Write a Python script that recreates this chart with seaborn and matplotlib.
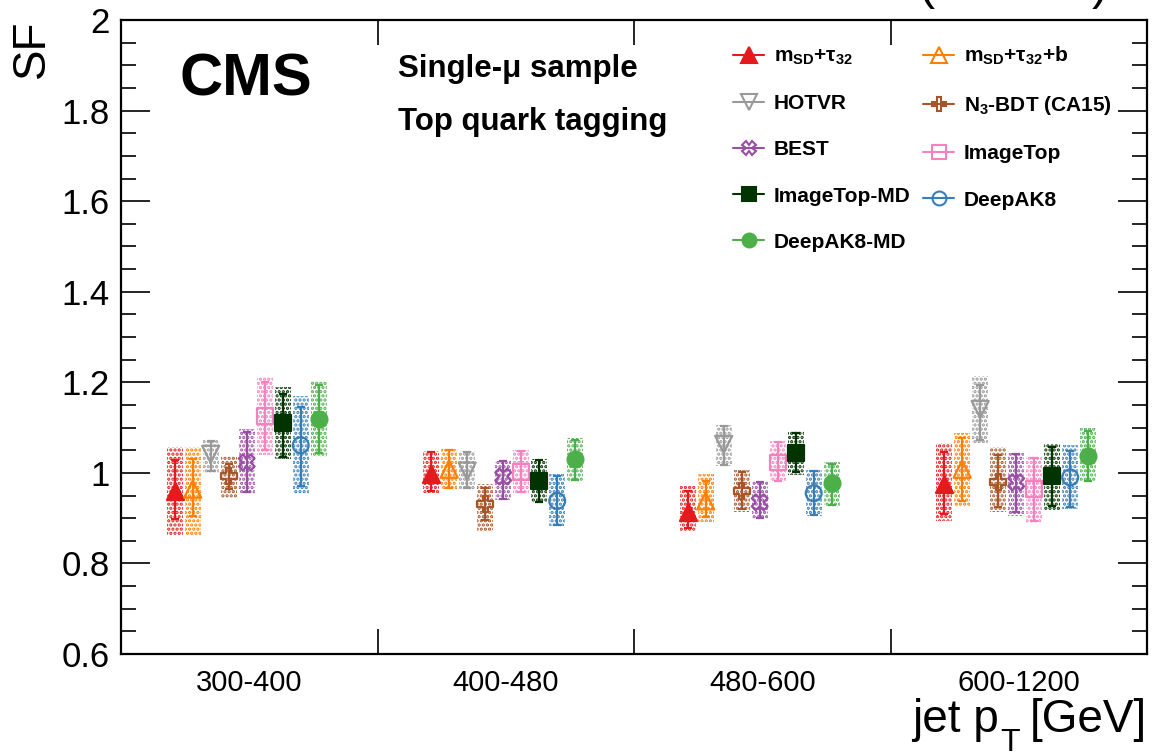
import numpy as np
import pandas as pd
import matplotlib
matplotlib.use("Agg")
import matplotlib.pyplot as plt
from matplotlib.lines import Line2D
from matplotlib.ticker import FixedLocator, MultipleLocator, FuncFormatter
import seaborn as sns

# ---------------- data ----------------
bins = ["300-400", "400-480", "480-600", "600-1200"]

methods = ["msd_tau32", "msd_tau32_b", "hotvr", "n3bdt", "best",
           "imagetop", "imagetop_md", "deepak8", "deepak8_md"]
labels = [r"m$_{SD}$+τ$_{32}$", r"m$_{SD}$+τ$_{32}$+b", "HOTVR", r"N$_{3}$-BDT (CA15)",
          "BEST", "ImageTop", "ImageTop-MD", "DeepAK8", "DeepAK8-MD"]

# central scale factors per pT bin
sf_msd_tau32   = [0.960, 0.997, 0.913, 0.975]
sf_msd_tau32_b = [0.964, 1.008, 0.938, 1.008]
sf_hotvr       = [1.041, 1.004, 1.063, 1.140]
sf_n3bdt       = [0.993, 0.931, 0.960, 0.980]
sf_best        = [1.023, 0.992, 0.935, 0.979]
sf_imagetop    = [1.125, 1.001, 1.023, 0.964]
sf_imagetop_md = [1.111, 0.983, 1.043, 0.992]
sf_deepak8     = [1.061, 0.938, 0.955, 0.990]
sf_deepak8_md  = [1.118, 1.030, 0.977, 1.037]

# error bar (upper / lower end)
eb_hi_msd_tau32   = [1.028, 1.045, 0.960, 1.045]
eb_lo_msd_tau32   = [0.898, 0.960, 0.878, 0.909]
eb_hi_msd_tau32_b = [1.030, 1.050, 0.982, 1.076]
eb_lo_msd_tau32_b = [0.904, 0.966, 0.902, 0.937]
eb_hi_hotvr       = [1.070, 1.045, 1.103, 1.195]
eb_lo_hotvr       = [1.004, 0.966, 1.017, 1.072]
eb_hi_n3bdt       = [1.019, 0.966, 1.001, 1.039]
eb_lo_n3bdt       = [0.964, 0.896, 0.920, 0.924]
eb_hi_best        = [1.090, 1.026, 0.980, 1.041]
eb_lo_best        = [0.957, 0.942, 0.900, 0.913]
eb_hi_imagetop    = [1.200, 1.048, 1.068, 1.032]
eb_lo_imagetop    = [1.050, 0.957, 0.982, 0.893]
eb_hi_imagetop_md = [1.175, 1.028, 1.087, 1.058]
eb_lo_imagetop_md = [1.035, 0.935, 1.001, 0.927]
eb_hi_deepak8     = [1.145, 0.992, 1.004, 1.048]
eb_lo_deepak8     = [0.972, 0.884, 0.908, 0.924]
eb_hi_deepak8_md  = [1.193, 1.072, 1.019, 1.092]
eb_lo_deepak8_md  = [1.043, 0.985, 0.928, 0.982]

# total-uncertainty box (upper / lower end)
bx_hi_msd_tau32   = [1.056, 1.048, 0.970, 1.067]
bx_lo_msd_tau32   = [0.860, 0.955, 0.871, 0.893]
bx_hi_msd_tau32_b = [1.056, 1.052, 0.997, 1.089]
bx_lo_msd_tau32_b = [0.862, 0.964, 0.891, 0.926]
bx_hi_hotvr       = [1.072, 1.048, 1.105, 1.213]
bx_lo_hotvr       = [0.999, 0.964, 1.015, 1.067]
bx_hi_n3bdt       = [1.037, 0.975, 1.006, 1.056]
bx_lo_n3bdt       = [0.944, 0.869, 0.913, 0.913]
bx_hi_best        = [1.096, 1.028, 0.982, 1.043]
bx_lo_best        = [0.953, 0.940, 0.898, 0.904]
bx_hi_imagetop    = [1.211, 1.050, 1.070, 1.037]
bx_lo_imagetop    = [1.039, 0.953, 0.979, 0.889]
bx_hi_imagetop_md = [1.190, 1.030, 1.092, 1.063]
bx_lo_imagetop_md = [1.030, 0.935, 0.995, 0.916]
bx_hi_deepak8     = [1.169, 0.997, 1.006, 1.061]
bx_lo_deepak8     = [0.953, 0.882, 0.904, 0.920]
bx_hi_deepak8_md  = [1.202, 1.078, 1.023, 1.098]
bx_lo_deepak8_md  = [1.036, 0.980, 0.924, 0.979]

colors = ["#e41a1c", "#ff7f00", "#999999", "#a65628", "#984ea3",
          "#f781bf", "#003300", "#377eb8", "#4daf4a"]
markers = ["^", "^", "v", "P", "X", "s", "s", "o", "o"]
filled = [True, False, False, False, False, False, True, False, True]

yticks = [0.6, 0.8, 1.0, 1.2, 1.4, 1.6, 1.8, 2.0]

g = globals()
rows = []
for m in methods:
    for b in range(len(bins)):
        rows.append(dict(method=m, ibin=b, sf=g["sf_" + m][b],
                         eb_hi=g["eb_hi_" + m][b], eb_lo=g["eb_lo_" + m][b],
                         bx_hi=g["bx_hi_" + m][b], bx_lo=g["bx_lo_" + m][b]))
df = pd.DataFrame(rows)

# ---------------- style ----------------
sns.set_theme(style="ticks")
plt.rcParams["font.family"] = ["Liberation Sans", "DejaVu Sans"]
plt.rcParams["mathtext.default"] = "regular"
plt.rcParams["hatch.linewidth"] = 1.6
for k in ["text.color", "axes.labelcolor", "xtick.color", "ytick.color", "axes.edgecolor"]:
    plt.rcParams[k] = "black"

W, H = 1153, 753
fig = plt.figure(figsize=(W / 100, H / 100), dpi=100)
ax = fig.add_axes([121 / W, 1 - 654 / H, (1147 - 121) / W, (654 - 20) / H])

step = 0.0702
boxw = 0.062
for i, m in enumerate(methods):
    d = df[df.method == m].copy()
    d["x"] = d["ibin"] + (i - 4) * step - 0.01
    c = colors[i]
    # hatched total-uncertainty boxes
    ax.bar(d["x"], d["bx_hi"] - d["bx_lo"], bottom=d["bx_lo"], width=boxw,
           fill=False, hatch="....", edgecolor=c, linewidth=0, zorder=2)
    # error bars
    ax.errorbar(d["x"], d["sf"], yerr=[d["sf"] - d["eb_lo"], d["eb_hi"] - d["sf"]],
                fmt="none", ecolor=c, elinewidth=1.6, capsize=3, capthick=1.6, zorder=3)
    # central markers
    sns.scatterplot(data=d, x="x", y="sf", marker=markers[i], s=150 if markers[i] in "^v" else 130,
                    color=c, edgecolor=c, linewidth=1.6, ax=ax, zorder=5, legend=False)
    if not filled[i]:
        ax.collections[-1].set_facecolor("none")

ax.set_xlim(-0.5, 3.5)
ax.set_ylim(0.6, 2.0)
ax.set_xlabel("")
ax.set_ylabel("")

# axes/ticks
for s in ax.spines.values():
    s.set_linewidth(1.6)
    s.set_color("black")
    s.set_visible(True)
ax.xaxis.set_major_locator(FixedLocator([0.5, 1.5, 2.5]))
ax.xaxis.set_minor_locator(FixedLocator(range(len(bins))))
ax.set_xticklabels([], minor=False)
ax.set_xticklabels(bins, minor=True)
ax.tick_params(axis="x", which="major", direction="in", length=18, width=1.2,
               top=True, bottom=True)
ax.tick_params(axis="x", which="minor", length=0, pad=11, labelsize=21, labelcolor="black")
ax.yaxis.set_major_locator(FixedLocator(yticks))
ax.yaxis.set_minor_locator(MultipleLocator(0.05))
ax.yaxis.set_major_formatter(FuncFormatter(lambda v, p: f"{v:g}"))
ax.tick_params(axis="y", which="major", direction="in", length=21, width=1.2,
               left=True, right=True, labelsize=25, pad=8, labelcolor="black")
ax.tick_params(axis="y", which="minor", direction="in", length=11, width=1.2,
               left=True, right=True)

# axis titles (ROOT-style lowered subscript T)
fig.text(1147 / W, 1 - 732 / H, "[GeV]", ha="right", va="baseline", fontsize=33)
fig.text(1010 / W, 1 - 751 / H, "T", ha="center", va="baseline", fontsize=23)
fig.text(999 / W, 1 - 732 / H, "jet p", ha="right", va="baseline", fontsize=33)
fig.text(54 / W, 1 - 20 / H, "SF", rotation=90, ha="right", va="top", fontsize=33)

# lumi label (cut by the top edge, as in the reference)
fig.text(1106 / W, 1.0, r"138 fb$^{-1}$ (13 TeV)", ha="right", va="baseline",
         fontsize=35)

# CMS label and descriptions
fig.text(180 / W, 1 - 95 / H, "CMS", fontsize=43, fontweight="bold", va="baseline")
fig.text(398 / W, 1 - 77 / H, "Single-μ sample", fontsize=22.5, fontweight="bold",
         va="baseline")
fig.text(398 / W, 1 - 130 / H, "Top quark tagging", fontsize=22.5, fontweight="bold",
         va="baseline")

# legend (row-major order like the reference: reorder for column filling)
handles = [Line2D([], [], color=colors[i], marker=markers[i], lw=1.5,
                  markersize=11 if markers[i] in "^v" else 10,
                  markerfacecolor=colors[i] if filled[i] else "none",
                  markeredgecolor=colors[i], markeredgewidth=1.5)
           for i in range(len(methods))]
order = [0, 2, 4, 6, 8, 1, 3, 5, 7]
leg = ax.legend([handles[k] for k in order], [labels[k] for k in order], ncol=2,
                loc="upper left",
                bbox_to_anchor=((733 - 121) / 1026, (654 - 45) / 634),
                frameon=False, borderpad=0, borderaxespad=0, handlelength=1.5,
                handletextpad=0.45, columnspacing=0.6, labelspacing=1.3,
                prop=dict(family=["Liberation Sans", "DejaVu Sans"], weight="bold", size=15))

fig.savefig("out.png", dpi=100)
